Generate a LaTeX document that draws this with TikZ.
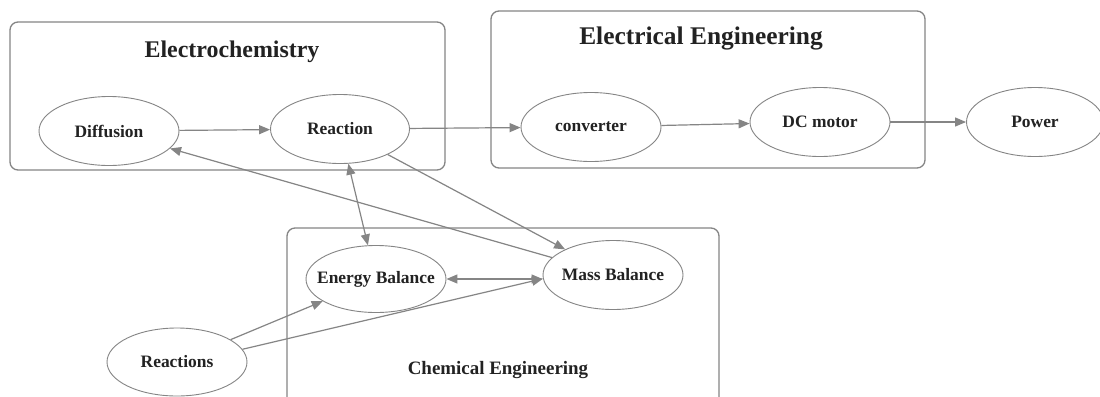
\documentclass[tikz,border=0pt]{standalone}
\usepackage{fontspec}
\setmainfont{Liberation Serif}
\usetikzlibrary{shapes.geometric,arrows.meta}
\definecolor{linegray}{HTML}{858585}
\definecolor{txt}{HTML}{222222}
\tikzset{
  ell/.style={ellipse, draw=linegray, line width=0.9bp, minimum width=140bp, minimum height=69bp,
    inner xsep=-14bp, inner ysep=0pt,
    font=\fontsize{17.5}{20}\selectfont\bfseries, text=txt},
  groupbox/.style={draw=linegray, line width=1.3bp, rounded corners=8bp},
  grouptitle/.style={text=txt, font=\bfseries, inner sep=0pt},
  conn/.style={draw=linegray, line width=1.2bp, -{Triangle[length=11bp,width=9bp]}},
  bconn/.style={draw=linegray, line width=1.2bp, {Triangle[length=11bp,width=9bp]}-{Triangle[length=11bp,width=9bp]}}
}
\begin{document}
\begin{tikzpicture}[x=1bp,y=-1bp]
\clip (0,0) rectangle (1100,396);
\fill[white] (0,0) rectangle (1100,396);
% group boxes
\draw[groupbox] (10,22) rectangle (445,170);
\draw[groupbox] (491,11) rectangle (925,168);
\draw[groupbox] (287,228) rectangle (719,420);
\node[grouptitle, font=\fontsize{24}{28}\selectfont\bfseries] (tEC) at (232,52) {Electrochemistry};
\node[grouptitle, font=\fontsize{25.5}{29}\selectfont\bfseries] (tEE) at (701,38) {Electrical Engineering};
\node[grouptitle, font=\fontsize{19}{22}\selectfont\bfseries] (tCE) at (498,370) {Chemical Engineering};
% nodes
\node[ell] (dif) at (109,131) {Diffusion};
\node[ell, minimum width=139bp] (rea) at (340,129) {Reaction};
\node[ell] (conv) at (591,127) {converter};
\node[ell] (dcm) at (820,122) {DC motor};
\node[ell, minimum width=137bp] (pow) at (1035,122) {Power};
\node[ell, minimum height=67bp] (eb) at (376,279) {Energy Balance};
\node[ell] (mb) at (613,275) {Mass Balance};
\node[ell, minimum height=68bp] (rxs) at (177,362) {Reactions};
% connectors
\draw[conn] (dif) -- (rea);
\draw[conn] (rea) -- (conv);
\draw[conn] (conv) -- (dcm);
\draw[conn] (dcm) -- (pow);
\draw[bconn] (rea) -- (eb);
\draw[conn] (mb) -- (dif);
\draw[conn] (rea) -- (mb);
\draw[bconn] (eb.east) -- (mb.west |- eb.east);
\draw[conn] (rxs) -- (eb);
\draw[conn] (rxs.11) -- (mb.183);
\end{tikzpicture}
\end{document}
